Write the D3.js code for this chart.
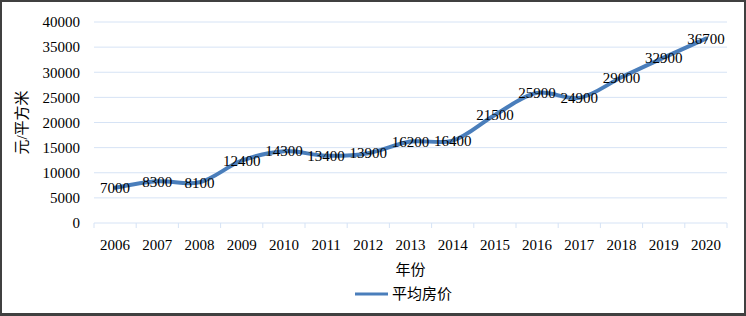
<!DOCTYPE html>
<html>
<head>
<meta charset="utf-8">
<script src="https://cdn.jsdelivr.net/npm/d3@7"></script>
<style>
  body { margin: 0; background: #fff; }
  svg text { font-family: "Liberation Serif", "Noto Sans CJK SC", serif; }
</style>
</head>
<body>
<div class="container"></div>
<script>
const WIDTH = 746;
const HEIGHT = 316;
const LEFT = 94, RIGHT = 727, TOP = 22, BOTTOM = 223;
const FONT = '"Liberation Serif", "Noto Sans CJK SC", serif';

var years = ["2006","2007","2008","2009","2010","2011","2012","2013","2014","2015","2016","2017","2018","2019","2020"];
var prices = [7000, 8300, 8100, 12400, 14300, 13400, 13900, 16200, 16400, 21500, 25900, 24900, 29000, 32900, 36700];
var yTicks = [0, 5000, 10000, 15000, 20000, 25000, 30000, 35000, 40000];
var seriesName = "平均房价";
var xTitle = "年份";
var yTitle = "元/平方米";

var svg = d3.select('.container').append('svg')
    .attr('width', WIDTH)
    .attr('height', HEIGHT);

// frame
svg.append('rect').attr('width', WIDTH).attr('height', HEIGHT).attr('fill', '#404040');
svg.append('rect').attr('x', 2).attr('y', 2).attr('width', WIDTH - 4).attr('height', HEIGHT - 5).attr('fill', '#fff');

var xScale = d3.scaleBand().domain(years).range([LEFT, RIGHT]).padding(0);
var yScale = d3.scaleLinear().domain([0, 40000]).range([BOTTOM, TOP]);

// grid lines
svg.append('g').selectAll('line')
    .data(yTicks.filter(function(d){ return d > 0; }))
    .enter().append('line')
    .attr('x1', LEFT).attr('x2', RIGHT)
    .attr('y1', function(d){ return yScale(d); })
    .attr('y2', function(d){ return yScale(d); })
    .attr('stroke', '#d6e3f5').attr('stroke-width', 1);

// y axis labels
var yAxis = d3.axisLeft(yScale).tickValues(yTicks).tickFormat(d3.format('d')).tickSize(0).tickPadding(14);
svg.append('g')
    .attr('transform', 'translate(' + LEFT + ',0)')
    .call(yAxis)
    .attr('font-family', FONT)
    .attr('font-size', 15)
    .call(function(g){ g.select('.domain').remove(); })
    .selectAll('text').attr('fill', '#000');

// x axis with ticks at band edges
svg.append('line')
    .attr('x1', LEFT).attr('x2', RIGHT)
    .attr('y1', BOTTOM).attr('y2', BOTTOM)
    .attr('stroke', '#d6e3f5').attr('stroke-width', 1);
svg.append('g').selectAll('line')
    .data(years.concat(['end']))
    .enter().append('line')
    .attr('x1', function(d){ return d === 'end' ? RIGHT : xScale(d); })
    .attr('x2', function(d){ return d === 'end' ? RIGHT : xScale(d); })
    .attr('y1', BOTTOM).attr('y2', BOTTOM + 5)
    .attr('stroke', '#d6e3f5').attr('stroke-width', 1);

var xAxis = d3.axisBottom(xScale).tickSize(0).tickPadding(16);
svg.append('g')
    .attr('transform', 'translate(0,' + BOTTOM + ')')
    .call(xAxis)
    .attr('font-family', FONT)
    .attr('font-size', 15)
    .call(function(g){ g.select('.domain').remove(); })
    .selectAll('text').attr('fill', '#000');

// line
var line = d3.line()
    .curve(d3.curveCatmullRom.alpha(0.5))
    .x(function(d, i){ return xScale(years[i]) + xScale.bandwidth() / 2; })
    .y(function(d){ return yScale(d); });

svg.append('path')
    .attr('d', line(prices))
    .attr('fill', 'none')
    .attr('stroke', '#4a7ebb')
    .attr('stroke-width', 4)
    .attr('stroke-linejoin', 'round')
    .attr('stroke-linecap', 'round');

// data labels
svg.append('g').selectAll('text')
    .data(prices)
    .enter().append('text')
    .attr('x', function(d, i){ return xScale(years[i]) + xScale.bandwidth() / 2; })
    .attr('y', function(d){ return yScale(d); })
    .attr('dy', '0.35em')
    .attr('text-anchor', 'middle')
    .style('font-size', '15px')
    .text(function(d){ return d; });

// axis titles
svg.append('text')
    .attr('transform', 'translate(22,' + ((TOP + BOTTOM) / 2) + ') rotate(-90)')
    .attr('text-anchor', 'middle')
    .attr('dy', '0.35em')
    .style('font-size', '15px')
    .text(yTitle);

svg.append('text')
    .attr('x', (LEFT + RIGHT) / 2)
    .attr('y', 270)
    .attr('dy', '0.35em')
    .attr('text-anchor', 'middle')
    .style('font-size', '15px')
    .text(xTitle);

// legend
svg.append('line')
    .attr('x1', 355).attr('x2', 388)
    .attr('y1', 294).attr('y2', 294)
    .attr('stroke', '#4a7ebb').attr('stroke-width', 3);
svg.append('text')
    .attr('x', 392).attr('y', 294)
    .attr('dy', '0.35em')
    .style('font-size', '15px')
    .text(seriesName);
</script>
</body>
</html>
